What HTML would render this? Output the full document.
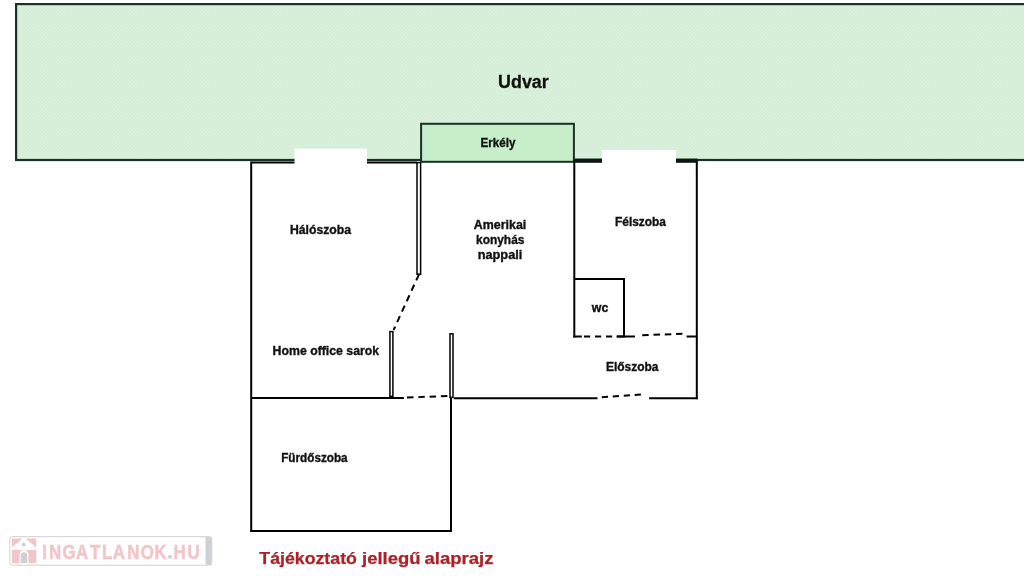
<!DOCTYPE html>
<html>
<head>
<meta charset="utf-8">
<style>
html,body{margin:0;padding:0;background:#fff;width:1024px;height:576px;overflow:hidden;}
svg{position:absolute;left:0;top:0;display:block;will-change:transform;}
text{font-family:"Liberation Sans",sans-serif;font-weight:bold;}
</style>
</head>
<body>
<svg width="1024" height="576" viewBox="0 0 1024 576">
<defs>
<pattern id="chk" width="3.6" height="3.6" patternUnits="userSpaceOnUse">
<rect width="3.6" height="3.6" fill="#dbf2dc"/>
<rect x="0" y="0" width="1.5" height="1.5" fill="#d0e9d2"/>
<rect x="1.8" y="1.8" width="1.5" height="1.5" fill="#d0e9d2"/>
</pattern>
</defs>
<!-- Udvar -->
<rect x="16.1" y="4.1" width="1020" height="155.9" fill="url(#chk)" stroke="#1b3029" stroke-width="2.2"/>
<!-- Erkely -->
<rect x="421.1" y="123.8" width="152.8" height="38" fill="#c6efc9" stroke="#1b3029" stroke-width="2"/>

<g stroke="#000" stroke-width="2" fill="none">
<!-- Halo top wall -->
<line x1="251.2" y1="162.6" x2="417" y2="162.6"/>
<!-- left wall -->
<line x1="251.2" y1="161.6" x2="251.2" y2="531.8"/>
<!-- bath bottom -->
<line x1="250.2" y1="530.9" x2="452" y2="530.9"/>
<!-- bath right -->
<line x1="451.0" y1="397.7" x2="451.0" y2="531.9"/>
<!-- horizontal y=398 -->
<line x1="251.2" y1="398.1" x2="403.9" y2="398.1"/>
<line x1="407" y1="397.6" x2="447.4" y2="395.9" stroke-dasharray="6.5,4.8"/>
<line x1="453.8" y1="398.2" x2="597.5" y2="398.2"/>
<line x1="601.8" y1="397.3" x2="641.6" y2="394.5" stroke-dasharray="6.2,4.8"/>
<line x1="649.1" y1="398.2" x2="697.6" y2="398.2"/>
<!-- right wall -->
<line x1="696.8" y1="160" x2="696.8" y2="399.2"/>
<!-- Felszoba left wall -->
<line x1="574.3" y1="161" x2="574.3" y2="337.5"/>
<!-- WC -->
<line x1="574.3" y1="279" x2="625" y2="279"/>
<line x1="624" y1="278" x2="624" y2="337.5"/>
<line x1="573.3" y1="336.5" x2="581.8" y2="336.5"/>
<line x1="584" y1="336.5" x2="624" y2="336.5" stroke-dasharray="6.2,4.8"/>
<line x1="616.5" y1="336.5" x2="635" y2="336.5"/>
<line x1="642.2" y1="335.3" x2="682.4" y2="333.7" stroke-dasharray="6.5,4.8"/>
<line x1="686.6" y1="336.5" x2="697.6" y2="336.5"/>
<!-- diagonal dashed -->
<line x1="419" y1="274.3" x2="393.6" y2="330" stroke-dasharray="6.6,4.9"/>
</g>
<!-- thick wall felszoba -->
<rect x="574.3" y="158.6" width="123.2" height="4.2" fill="#0c1512"/>
<!-- thin partition rects -->
<g fill="#fff" stroke="#000" stroke-width="1.5">
<rect x="417.0" y="162.6" width="3.6" height="111.6"/>
<rect x="389.9" y="331.6" width="3" height="64.8"/>
<rect x="450.0" y="333.8" width="3.0" height="63.6"/>
</g>
<!-- windows -->
<rect x="294.5" y="148.7" width="72.5" height="17" fill="#fff"/>
<rect x="602" y="150" width="74" height="15" fill="#fff"/>

<!-- labels -->
<g fill="#111" stroke="#111" stroke-width="0.35" font-size="12">
<text x="289.9" y="233.6" textLength="61.2" lengthAdjust="spacingAndGlyphs">Hálószoba</text>
<text x="480.5" y="147.2" textLength="35" lengthAdjust="spacingAndGlyphs">Erkély</text>
<text x="615" y="226" textLength="51" lengthAdjust="spacingAndGlyphs">Félszoba</text>
<text x="500" y="228.75" text-anchor="middle" textLength="52.5" lengthAdjust="spacingAndGlyphs">Amerikai</text>
<text x="500.2" y="243.9" text-anchor="middle" textLength="48.4" lengthAdjust="spacingAndGlyphs">konyhás</text>
<text x="500" y="259" text-anchor="middle" textLength="44.7" lengthAdjust="spacingAndGlyphs">nappali</text>
<text x="272.6" y="354.9" textLength="106.5" lengthAdjust="spacingAndGlyphs">Home office sarok</text>
<text x="281.2" y="462.2" textLength="66.4" lengthAdjust="spacingAndGlyphs">Fürdőszoba</text>
<text x="591.8" y="312" textLength="16.5" lengthAdjust="spacingAndGlyphs">wc</text>
<text x="605.9" y="370.5" textLength="52.6" lengthAdjust="spacingAndGlyphs">Előszoba</text>
</g>
<text x="498.1" y="87.8" font-size="17.6" textLength="50.6" lengthAdjust="spacingAndGlyphs" fill="#111" stroke="#111" stroke-width="0.3">Udvar</text>
<g font-size="17" fill="#a82228" stroke="#a82228" stroke-width="0.25">
<text x="259.3" y="564.3" textLength="97.6" lengthAdjust="spacingAndGlyphs">Tájékoztató</text>
<text x="362" y="564.3" textLength="58.5" lengthAdjust="spacingAndGlyphs">jellegű</text>
<text x="424.5" y="564.3" textLength="69" lengthAdjust="spacingAndGlyphs">alaprajz</text>
</g>

<!-- logo -->
<rect x="9.8" y="536.7" width="202" height="28.5" rx="2.5" fill="#fff" stroke="#cdd1d3" stroke-width="1"/>
<rect x="205.5" y="537.2" width="6" height="27.5" fill="#cdd1d3"/>
<g fill="#f2c5c9">
<path d="M11.9 538.6 L22.6 538.6 L11.9 547.6 Z"/>
<path d="M25.7 538.6 L36.25 538.6 L36.25 547.6 Z"/>
<path d="M11.9 549.9 H36.25 V563.2 H11.9 Z M19.5 563.2 V554.5 A4.5 4.5 0 0 1 28.5 554.5 V563.2 Z" fill-rule="evenodd"/>
</g>
<circle cx="23.75" cy="544.5" r="2" fill="#cdd1d3"/>
<path d="M20.6 563 V555.5 A3.35 3.35 0 0 1 27.3 555.5 V563 Z" fill="#cdd1d3"/>
<g font-size="19.8" text-anchor="middle" fill="#f2c5c9" stroke="#f2c5c9" stroke-width="0.5">
<text transform="translate(44.7,558.5) scale(0.85,1)">I</text>
<text transform="translate(55.05,558.5) scale(0.85,1)">N</text>
<text transform="translate(69.1,558.5) scale(0.85,1)">G</text>
<text transform="translate(82.15,558.5) scale(0.85,1)">A</text>
<text transform="translate(95.1,558.5) scale(0.85,1)">T</text>
<text transform="translate(107.2,558.5) scale(0.85,1)">L</text>
<text transform="translate(118.9,558.5) scale(0.85,1)">A</text>
<text transform="translate(133.3,558.5) scale(0.85,1)">N</text>
<text transform="translate(147.35,558.5) scale(0.85,1)">O</text>
<text transform="translate(160.45,558.5) scale(0.85,1)">K</text>
<rect x="168.2" y="555.2" width="3.6" height="3.3" fill="#ccd0d3" stroke="none"/>
<text transform="translate(179.55,558.5) scale(0.85,1)">H</text>
<text transform="translate(193.45,558.5) scale(0.85,1)">U</text>
</g>
</svg>
</body>
</html>
